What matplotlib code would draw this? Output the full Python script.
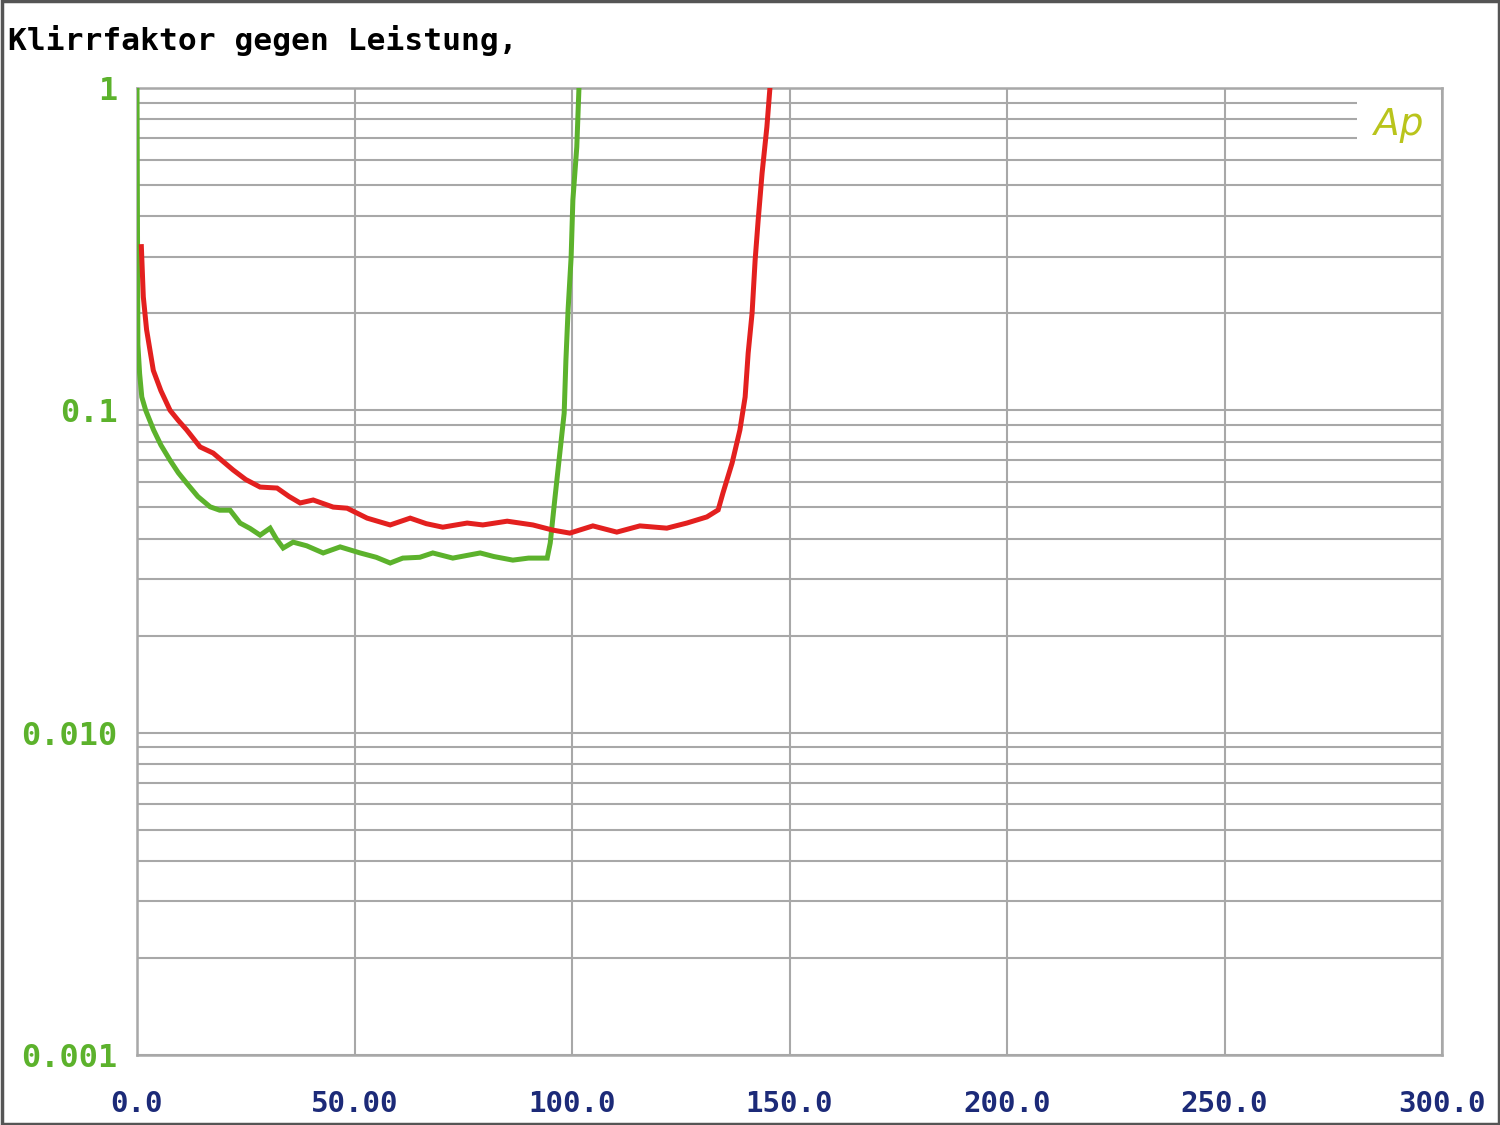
import numpy as np
import matplotlib
matplotlib.use("Agg")
import matplotlib.pyplot as plt
from matplotlib.ticker import LogLocator, FixedLocator, NullFormatter
from matplotlib.patches import Rectangle

# Kurve grün (Leistung in W, Klirrfaktor in %)
gruen_x = [0, 0.2, 0.6, 1.1, 2.0, 3.8, 5.5, 7.6, 9.5, 11.4, 14.0, 16.8, 19.0, 21.4,
           23.7, 26.0, 28.3, 30.6, 32.0, 33.6, 35.9, 39.0, 42.8, 46.7, 51.3, 55.0,
           58.2, 61.1, 65.0, 68.0, 72.6, 76.0, 78.9, 82.0, 86.4, 90.0, 94.3, 95.0,
           96.1, 97.2, 98.2, 98.6, 99.1, 99.8, 100.2, 101.1, 101.6]
gruen_y = [1.0, 0.16, 0.13, 0.110, 0.100, 0.087, 0.078, 0.070, 0.064, 0.0595, 0.054,
           0.0502, 0.049, 0.049, 0.0447, 0.043, 0.041, 0.0431, 0.040, 0.0374, 0.039,
           0.038, 0.0361, 0.0377, 0.0361, 0.035, 0.0336, 0.0348, 0.035, 0.0361, 0.0348,
           0.0355, 0.0361, 0.0352, 0.0343, 0.0348, 0.0348, 0.0388, 0.0538, 0.0737,
           0.098, 0.143, 0.205, 0.299, 0.449, 0.656, 1.0]

# Kurve rot
rot_x = [1.0, 1.45, 2.2, 3.75, 5.5, 7.6, 9.5, 11.4, 14.5, 17.5, 20.0, 22.1, 25.0, 28.3,
         32.2, 35.0, 37.5, 40.5, 45.1, 48.3, 52.9, 58.2, 62.8, 66.5, 70.3, 75.9, 79.5,
         85.1, 91.0, 95.6, 99.5, 104.8, 110.3, 115.6, 121.8, 126.4, 131.0, 133.6,
         134.7, 136.8, 138.6, 139.8, 140.5, 141.4, 142.1, 142.8, 143.7, 144.8, 145.5]
rot_y = [0.322, 0.225, 0.178, 0.133, 0.115, 0.100, 0.093, 0.087, 0.077, 0.0737, 0.069,
         0.0653, 0.061, 0.0578, 0.0574, 0.054, 0.0516, 0.0527, 0.0501, 0.0497, 0.0463,
         0.0441, 0.0463, 0.0445, 0.0434, 0.0447, 0.0441, 0.0453, 0.0441, 0.0425,
         0.0416, 0.0438, 0.0419, 0.0438, 0.0431, 0.0447, 0.0467, 0.0491, 0.0554,
         0.0686, 0.0869, 0.110, 0.1506, 0.2003, 0.2926, 0.3895, 0.5447, 0.7568, 1.0]

x_ticks = [0, 50, 100, 150, 200, 250, 300]
x_labels = ["0.0", "50.00", "100.0", "150.0", "200.0", "250.0", "300.0"]
y_ticks = [0.001, 0.01, 0.1, 1]
y_labels = ["0.001", "0.010", "0.1", "1"]

mono = "DejaVu Sans Mono"
gitter = "#a8a8a8"

fig = plt.figure(figsize=(15, 11.25), dpi=100)
ax = fig.add_axes([137 / 1500, 1 - 1055 / 1125, 1305 / 1500, 967 / 1125])

ax.plot(gruen_x, gruen_y, color="#5cb22c", lw=3.6, zorder=3, solid_joinstyle="miter")
ax.plot(rot_x, rot_y, color="#e3201f", lw=3.6, zorder=3, solid_joinstyle="miter")

ax.set_yscale("log")
ax.set_xlim(0, 300)
ax.set_ylim(0.001, 1)

ax.xaxis.set_major_locator(FixedLocator(x_ticks))
ax.set_xticklabels(x_labels)
ax.yaxis.set_major_locator(FixedLocator(y_ticks))
ax.set_yticklabels(y_labels)
ax.yaxis.set_minor_locator(LogLocator(base=10, subs=np.arange(2, 10)))
ax.yaxis.set_minor_formatter(NullFormatter())

ax.tick_params(axis="both", which="both", length=0)
ax.tick_params(axis="x", pad=25, labelsize=21, labelcolor="#1c2a78")
ax.tick_params(axis="y", pad=14, labelsize=23, labelcolor="#5cb22c")
for lab in ax.get_xticklabels() + ax.get_yticklabels():
    lab.set_family(mono)
    lab.set_fontweight("bold")

ax.set_axisbelow(True)
ax.grid(True, which="both", axis="y", color=gitter, lw=1.5)
ax.grid(True, which="major", axis="x", color=gitter, lw=1.5)
for s in ax.spines.values():
    s.set_color(gitter)
    s.set_linewidth(1.8)

# Logo "Ap" mit weißem Hintergrund über den Gitterlinien
ax.add_patch(Rectangle((280.5, 0.64), 19.2, 0.31, facecolor="white",
                       edgecolor="none", zorder=1))
ax.text(0.967, 0.962, "Ap", transform=ax.transAxes, ha="center", va="center",
        fontsize=27, style="italic", fontweight="light", color="#b9c41c",
        family="DejaVu Sans", zorder=2)

fig.text(8 / 1500, 1 - 40 / 1125, "Klirrfaktor gegen Leistung,", ha="left",
         va="center", fontsize=22.5, family=mono, fontweight="bold", color="black")

# Rahmen um das ganze Bild
fig.add_artist(Rectangle((0.001, 0.001), 0.998, 0.998, transform=fig.transFigure,
                         fill=False, edgecolor="#555555", lw=2.5))

fig.savefig("out.png", dpi=100)
